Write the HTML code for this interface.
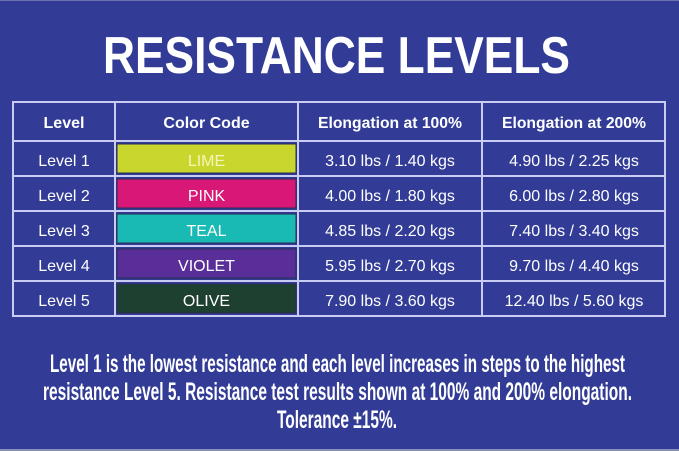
<!DOCTYPE html>
<html>
<head>
<meta charset="utf-8">
<style>
html,body{margin:0;padding:0;background:#323c96;}
svg{display:block;}
</style>
</head>
<body>
<svg width="679" height="451" viewBox="0 0 679 451" xmlns="http://www.w3.org/2000/svg">
  <rect x="0" y="0" width="679" height="451" fill="#323c96"/>
  <rect x="0" y="0" width="679" height="1" fill="#6a70b0"/>
  <rect x="0" y="449" width="679" height="2" fill="#8a8fb8"/>

  <!-- Title -->
  <text x="103" y="73" font-family="Liberation Sans, sans-serif" font-weight="bold" font-size="52" fill="#ffffff" textLength="467" lengthAdjust="spacingAndGlyphs">RESISTANCE LEVELS</text>

  <!-- Color boxes -->
  <rect x="117" y="144" width="179" height="29" fill="#c8d62e" stroke="#2a2d55" stroke-width="1"/>
  <rect x="117" y="179" width="179" height="29" fill="#d81777" stroke="#2a2d55" stroke-width="1"/>
  <rect x="117" y="214" width="179" height="29" fill="#19b9b4" stroke="#2a2d55" stroke-width="1"/>
  <rect x="117" y="249" width="179" height="29" fill="#5a2e98" stroke="#2a2d55" stroke-width="1"/>
  <rect x="117" y="284" width="179" height="29" fill="#1e4030" stroke="#2a2d55" stroke-width="1"/>

  <!-- Grid lines -->
  <g fill="#c9cdf3">
    <rect x="12" y="101" width="654" height="2"/>
    <rect x="12" y="140" width="654" height="2"/>
    <rect x="12" y="175" width="654" height="2"/>
    <rect x="12" y="210" width="654" height="2"/>
    <rect x="12" y="245" width="654" height="2"/>
    <rect x="12" y="280" width="654" height="2"/>
    <rect x="12" y="315" width="654" height="2"/>
    <rect x="12" y="101" width="2" height="216"/>
    <rect x="114" y="101" width="2" height="216"/>
    <rect x="297" y="101" width="2" height="216"/>
    <rect x="481" y="101" width="2" height="216"/>
    <rect x="664" y="101" width="2" height="216"/>
  </g>

  <!-- Header -->
  <g font-family="Liberation Sans, sans-serif" font-weight="bold" font-size="16" fill="#ffffff" text-anchor="middle">
    <text x="64" y="128">Level</text>
    <text x="206.5" y="128">Color Code</text>
    <text x="390" y="128" textLength="144" lengthAdjust="spacingAndGlyphs">Elongation at 100%</text>
    <text x="574" y="128" textLength="144" lengthAdjust="spacingAndGlyphs">Elongation at 200%</text>
  </g>

  <!-- Rows -->
  <g font-family="Liberation Sans, sans-serif" font-size="16" fill="#ffffff" text-anchor="middle">
    <text x="64" y="166">Level 1</text>
    <text x="206.5" y="166" fill="#f4f6b8">LIME</text>
    <text x="390" y="166">3.10 lbs / 1.40 kgs</text>
    <text x="574" y="166">4.90 lbs / 2.25 kgs</text>

    <text x="64" y="201">Level 2</text>
    <text x="206.5" y="201">PINK</text>
    <text x="390" y="201">4.00 lbs / 1.80 kgs</text>
    <text x="574" y="201">6.00 lbs / 2.80 kgs</text>

    <text x="64" y="236">Level 3</text>
    <text x="206.5" y="236">TEAL</text>
    <text x="390" y="236">4.85 lbs / 2.20 kgs</text>
    <text x="574" y="236">7.40 lbs / 3.40 kgs</text>

    <text x="64" y="271">Level 4</text>
    <text x="206.5" y="271">VIOLET</text>
    <text x="390" y="271">5.95 lbs / 2.70 kgs</text>
    <text x="574" y="271">9.70 lbs / 4.40 kgs</text>

    <text x="64" y="306">Level 5</text>
    <text x="206.5" y="306">OLIVE</text>
    <text x="390" y="306">7.90 lbs / 3.60 kgs</text>
    <text x="574" y="306">12.40 lbs / 5.60 kgs</text>
  </g>

  <!-- Footer text -->
  <g font-family="Liberation Sans, sans-serif" font-weight="bold" font-size="25" fill="#ffffff">
    <text x="50" y="372" textLength="575" lengthAdjust="spacingAndGlyphs">Level 1 is the lowest resistance and each level increases in steps to the highest</text>
    <text x="43" y="400" textLength="589" lengthAdjust="spacingAndGlyphs">resistance Level 5. Resistance test results shown at 100%  and 200% elongation.</text>
    <text x="277" y="428" textLength="120" lengthAdjust="spacingAndGlyphs">Tolerance ±15%.</text>
  </g>
</svg>
</body>
</html>
